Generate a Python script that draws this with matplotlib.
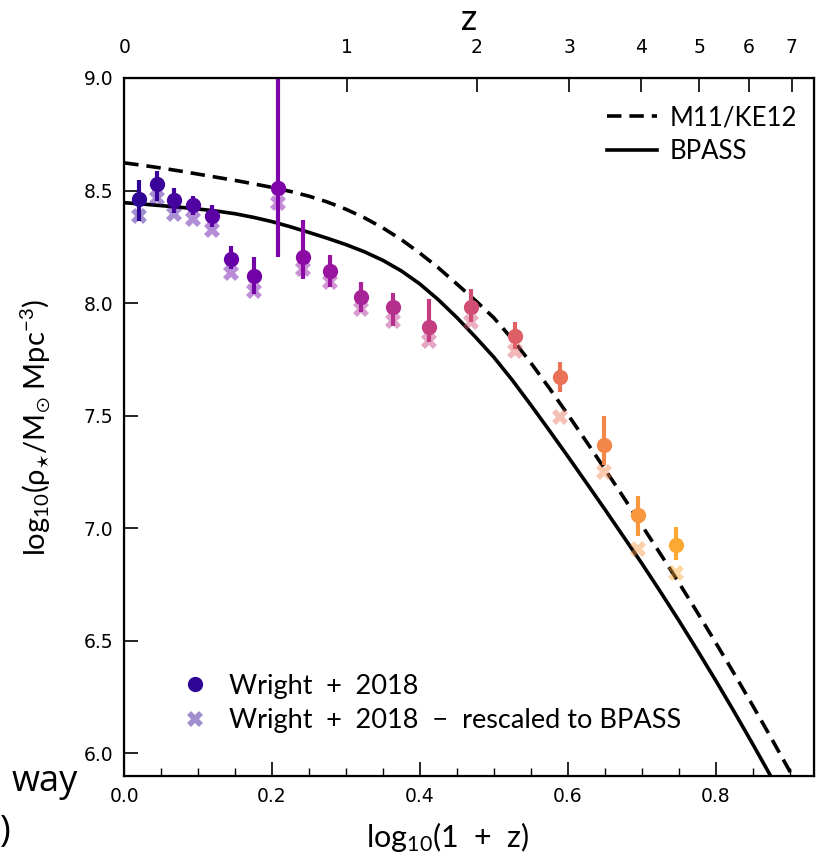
import numpy as np
import matplotlib.pyplot as plt
from matplotlib.ticker import MultipleLocator
from matplotlib.lines import Line2D

plt.rcParams['font.family'] = ['Lato', 'DejaVu Sans']
plt.rcParams['mathtext.fontset'] = 'dejavusans'
plt.rcParams['mathtext.default'] = 'regular'

# Wright+2018 points (log10(1+z), log10 rho)
x_pts = [0.0203, 0.0443, 0.0667, 0.0925, 0.1187, 0.1444, 0.176, 0.2075, 0.2414, 0.2789,
         0.3204, 0.3642, 0.4129, 0.4693, 0.5293, 0.5898, 0.6489, 0.6949, 0.7459]
rho = [8.463, 8.531, 8.460, 8.438, 8.389, 8.198, 8.121, 8.512, 8.207, 8.143,
       8.028, 7.982, 7.895, 7.981, 7.855, 7.674, 7.369, 7.059, 6.926]
rho_hi = [8.549, 8.585, 8.513, 8.475, 8.438, 8.254, 8.204, 9.30, 8.369, 8.212,
          8.093, 8.044, 8.018, 8.062, 7.915, 7.737, 7.501, 7.144, 7.007]
rho_lo = [8.363, 8.453, 8.400, 8.390, 8.340, 8.150, 8.040, 8.207, 8.106, 8.071,
          7.960, 7.900, 7.827, 7.916, 7.796, 7.605, 7.280, 6.965, 6.860]
rho_bpass = [8.386, 8.469, 8.394, 8.372, 8.327, 8.133, 8.054, 8.446, 8.150, 8.093,
             7.973, 7.922, 7.833, 7.915, 7.789, 7.494, 7.251, 6.908, 6.801]

# model curves
m11_x = [0.000, 0.025, 0.050, 0.075, 0.100, 0.125, 0.150, 0.175, 0.200, 0.225,
         0.250, 0.275, 0.300, 0.325, 0.350, 0.375, 0.400, 0.425, 0.450, 0.475,
         0.500, 0.525, 0.550, 0.575, 0.600, 0.625, 0.650, 0.675, 0.700, 0.725,
         0.750, 0.775, 0.800, 0.825, 0.850, 0.875, 0.900, 0.910]
m11_y = [8.623, 8.612, 8.600, 8.587, 8.573, 8.559, 8.545, 8.530, 8.514, 8.496,
         8.475, 8.449, 8.417, 8.379, 8.334, 8.282, 8.222, 8.157, 8.085, 8.012,
         7.935, 7.840, 7.735, 7.623, 7.506, 7.386, 7.264, 7.140, 7.014, 6.888,
         6.760, 6.628, 6.493, 6.355, 6.214, 6.070, 5.923, 5.862]
bp_x = [0.000, 0.025, 0.050, 0.075, 0.100, 0.125, 0.150, 0.175, 0.200, 0.225,
        0.250, 0.275, 0.300, 0.325, 0.350, 0.375, 0.400, 0.425, 0.450, 0.475,
        0.500, 0.525, 0.550, 0.575, 0.600, 0.625, 0.650, 0.675, 0.700, 0.725,
        0.750, 0.775, 0.800, 0.825, 0.850, 0.875, 0.880]
bpass_y = [8.446, 8.440, 8.433, 8.426, 8.418, 8.409, 8.397, 8.381, 8.362, 8.339,
           8.314, 8.288, 8.260, 8.228, 8.190, 8.143, 8.085, 8.015, 7.936, 7.850,
           7.760, 7.658, 7.548, 7.435, 7.320, 7.203, 7.085, 6.965, 6.845, 6.720,
           6.592, 6.460, 6.325, 6.186, 6.043, 5.897, 5.868]

z_ticks = [0, 1, 2, 3, 4, 5, 6, 7]

tick_font = ['Liberation Sans Narrow', 'DejaVu Sans']

fig = plt.figure(figsize=(8.28, 8.55), dpi=100)
ax = fig.add_axes([0.150, 0.0924, 0.833, 0.8164])

cols = plt.cm.plasma(0.04 + 1.03 * np.array(x_pts))

ax.plot(m11_x, m11_y, color='black', ls=(0, (4, 2.2)), lw=2.6, zorder=2)
ax.plot(bp_x, bpass_y, color='black', lw=2.6, zorder=2)

for i in range(len(x_pts)):
    ax.plot(x_pts[i], rho_bpass[i], marker='X', ms=11, mew=0, color=cols[i], alpha=0.45, zorder=3)
    ax.plot([x_pts[i], x_pts[i]], [rho_lo[i], rho_hi[i]], color=cols[i], lw=3, zorder=4,
            solid_capstyle='butt')
    ax.plot(x_pts[i], rho[i], marker='o', ms=11, mew=0, color=cols[i], zorder=5)

ax.set_xlim(0, 0.933)
ax.set_ylim(5.9, 9.0)
ax.xaxis.set_major_locator(MultipleLocator(0.2))
ax.xaxis.set_minor_locator(MultipleLocator(0.05))
ax.yaxis.set_major_locator(MultipleLocator(0.5))
ax.tick_params(which='both', direction='in', top=False, right=False, labelsize=13.5)
ax.tick_params(which='major', length=10, width=1.2, pad=8)
ax.tick_params(which='minor', length=6, width=1.0)
for lab in ax.get_xticklabels() + ax.get_yticklabels():
    lab.set_family(tick_font)
for s in ax.spines.values():
    s.set_linewidth(1.6)

ax.set_xlabel('log$_{10}$(1\u2002+\u2002z)', fontsize=22)
ax.xaxis.set_label_coords((447 - 124) / 690, -0.063)
ax.set_ylabel(r'log$_{10}$(ρ$_{\star}$/M$_{\odot}$ Mpc$^{-3}$)', fontsize=21, labelpad=22)

ax2 = ax.twiny()
ax2.set_xlim(ax.get_xlim())
ax2.set_xticks(np.log10(1 + np.array(z_ticks)))
ax2.set_xticklabels([str(z) for z in z_ticks])
ax2.tick_params(direction='in', length=10, width=1.2, labelsize=13.5, pad=15)
for lab in ax2.get_xticklabels():
    lab.set_family(tick_font)
ax2.set_xlabel('z', fontsize=26, labelpad=6)

leg1 = ax.legend([Line2D([], [], color='black', ls=(0, (4, 2.2)), lw=2.6),
                  Line2D([], [], color='black', lw=2.6)],
                 ['M11/KE12', 'BPASS'], loc='upper right', bbox_to_anchor=(1.0, 0.985),
                 frameon=False, fontsize=18.5, handlelength=1.95, handletextpad=0.5,
                 labelspacing=0.35, borderaxespad=0.25)
ax.add_artist(leg1)

h1 = Line2D([], [], ls='none', marker='o', ms=11, mew=0, color=cols[0])
h2 = Line2D([], [], ls='none', marker='X', ms=11, mew=0, color=cols[0], alpha=0.45)
ax.legend([h1, h2], ['Wright\u2002+\u20022018',
                     'Wright\u2002+\u20022018  \u2212  rescaled to BPASS'],
          loc='lower left', bbox_to_anchor=(0.068, 0.046), borderaxespad=0,
          frameon=False, fontsize=19.5, handlelength=1.0, handletextpad=0.72,
          labelspacing=0.35)

fig.text(78 / 828, 1 - 782 / 855, 'way', fontsize=26, family=['Open Sans', 'DejaVu Sans'],
         va='center', ha='right')
fig.text(0.0, 1 - 832 / 855, ')', fontsize=26, family=['Open Sans', 'DejaVu Sans'],
         va='center', ha='left')

fig.savefig('out.png', dpi=100)
